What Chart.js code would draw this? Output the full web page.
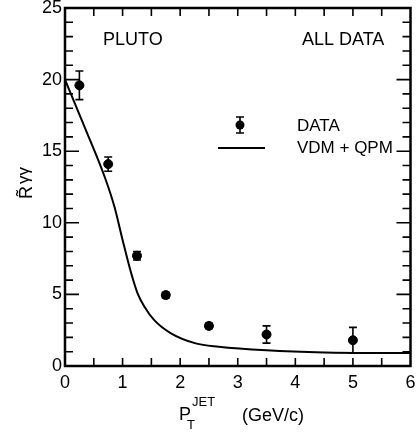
<!DOCTYPE html>
<html>
<head>
<meta charset="utf-8">
<script src="https://cdn.jsdelivr.net/npm/chart.js@4.4.1/dist/chart.umd.min.js"></script>
<style>
html,body{margin:0;padding:0;background:#fff;}
#wrap{width:416px;height:433px;}
</style>
</head>
<body>
<div id="wrap"><canvas id="c" width="416" height="433"></canvas></div>
<script>
// Data
const dataX   = [0.25, 0.75, 1.25, 1.75, 2.5, 3.5, 5.0];
const dataY   = [19.6, 14.1, 7.7, 4.95, 2.8, 2.2, 1.8];
const dataErr = [1.0, 0.5, 0.3, 0.2, 0.2, 0.6, 0.9];

const curveX = [0, 0.35, 0.69, 0.86, 1.0, 1.15, 1.26, 1.38, 1.55, 1.84, 2.27, 2.67, 3.5, 4.5, 6.0];
const curveY = [20, 16.6, 13.2, 11.1, 8.8, 6.47, 5.07, 4.14, 3.2, 2.28, 1.58, 1.35, 1.1, 0.95, 0.9];

const xTicks = [0, 1, 2, 3, 4, 5, 6];
const yTicks = [0, 5, 10, 15, 20, 25];

const FONT = '"Liberation Sans", Arial, sans-serif';

const pts = dataX.map((x, i) => ({x: x, y: dataY[i]}));
const curve = curveX.map((x, i) => ({x: x, y: curveY[i]}));

const decor = {
  id: 'decor',
  afterDatasetsDraw(chart) {
    const ctx = chart.ctx;
    const xs = chart.scales.x, ys = chart.scales.y;
    const a = chart.chartArea;
    ctx.save();
    ctx.strokeStyle = '#000';
    ctx.fillStyle = '#000';
    // error bars
    ctx.lineWidth = 1.6;
    dataX.forEach((x, i) => {
      const px = xs.getPixelForValue(x);
      const top = ys.getPixelForValue(dataY[i] + dataErr[i]);
      const bot = ys.getPixelForValue(dataY[i] - dataErr[i]);
      ctx.beginPath();
      ctx.moveTo(px, top); ctx.lineTo(px, bot);
      ctx.moveTo(px - 4, top); ctx.lineTo(px + 4, top);
      ctx.moveTo(px - 4, bot); ctx.lineTo(px + 4, bot);
      ctx.stroke();
    });
    // frame
    ctx.lineWidth = 2.5;
    ctx.strokeRect(a.left, a.top, a.right - a.left, a.bottom - a.top);
    // ticks inward
    ctx.lineWidth = 1.6;
    ctx.beginPath();
    for (let v = 0.5; v < 6; v += 0.5) {
      const px = xs.getPixelForValue(v);
      ctx.moveTo(px, a.bottom); ctx.lineTo(px, a.bottom - 8);
      ctx.moveTo(px, a.top); ctx.lineTo(px, a.top + 8);
    }
    for (let v = 1; v < 25; v += 1) {
      const py = ys.getPixelForValue(v);
      const len = (v % 5 === 0) ? 14 : 8;
      ctx.moveTo(a.left, py); ctx.lineTo(a.left + len, py);
      ctx.moveTo(a.right, py); ctx.lineTo(a.right - len, py);
    }
    ctx.stroke();

    // labels in plot
    ctx.font = '18px ' + FONT;
    ctx.textBaseline = 'alphabetic';
    ctx.textAlign = 'left';
    ctx.fillText('PLUTO', 103, 45);
    ctx.fillText('ALL DATA', 302, 45);

    // legend
    const lx = 240, ly = 125;
    ctx.beginPath(); ctx.arc(lx, ly, 4.5, 0, Math.PI * 2); ctx.fill();
    ctx.beginPath();
    ctx.moveTo(lx, ly - 8); ctx.lineTo(lx, ly + 8);
    ctx.moveTo(lx - 4, ly - 8); ctx.lineTo(lx + 4, ly - 8);
    ctx.moveTo(lx - 4, ly + 8); ctx.lineTo(lx + 4, ly + 8);
    ctx.stroke();
    ctx.lineWidth = 2;
    ctx.beginPath(); ctx.moveTo(218, 148); ctx.lineTo(265, 148); ctx.stroke();
    ctx.font = '17px ' + FONT;
    ctx.textBaseline = 'middle';
    ctx.fillText('DATA', 297, 126);
    ctx.fillText('VDM + QPM', 297, 148);

    // x-axis title
    ctx.textBaseline = 'alphabetic';
    ctx.font = '18px ' + FONT;
    ctx.fillText('P', 179, 420);
    ctx.font = '13px ' + FONT;
    ctx.fillText('T', 187, 429);
    ctx.fillText('JET', 192, 406);
    ctx.font = '18px ' + FONT;
    ctx.fillText('(GeV/c)', 242, 421);

    // y-axis title (rotated)
    ctx.translate(32, 199);
    ctx.rotate(-Math.PI / 2);
    ctx.font = '18px ' + FONT;
    ctx.fillText('R\u0303', 0, 0);
    ctx.font = '17px ' + FONT;
    ctx.fillText('\u03b3\u03b3', 15, -3);
    ctx.restore();
  }
};

new Chart(document.getElementById('c'), {
  type: 'scatter',
  data: {
    datasets: [
      {
        label: 'DATA',
        data: pts,
        backgroundColor: '#000',
        borderColor: '#000',
        pointRadius: 4.5,
        pointHoverRadius: 4.5,
        showLine: false
      },
      {
        label: 'VDM + QPM',
        data: curve,
        borderColor: '#000',
        borderWidth: 2,
        pointRadius: 0,
        showLine: true,
        cubicInterpolationMode: 'monotone',
        fill: false
      }
    ]
  },
  options: {
    responsive: false,
    animation: false,
    devicePixelRatio: 1,
    layout: {padding: {top: 8, right: 3, left: 0, bottom: 0}},
    plugins: {legend: {display: false}, tooltip: {enabled: false}},
    scales: {
      x: {
        type: 'linear', min: 0, max: 6,
        grid: {display: false, drawTicks: false},
        border: {display: false},
        afterBuildTicks: (s) => { s.ticks = xTicks.map(v => ({value: v})); },
        ticks: {color: '#000', font: {size: 18, family: FONT}, padding: 6, maxRotation: 0},
        afterFit: (s) => { s.height = 67; s.paddingLeft = 0; s.paddingRight = 0; }
      },
      y: {
        type: 'linear', min: 0, max: 25,
        grid: {display: false, drawTicks: false},
        border: {display: false},
        afterBuildTicks: (s) => { s.ticks = yTicks.map(v => ({value: v})); },
        ticks: {color: '#000', font: {size: 18, family: FONT}, padding: 3},
        afterFit: (s) => { s.width = 65; s.paddingTop = 0; s.paddingBottom = 0; }
      }
    }
  },
  plugins: [decor]
});
</script>
</body>
</html>
